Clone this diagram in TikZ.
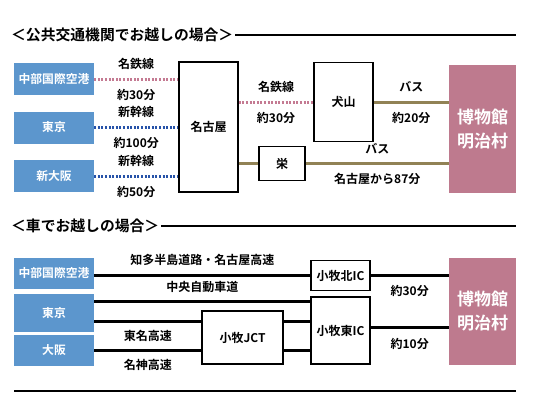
\documentclass[tikz,border=0pt]{standalone}
\usepackage{fontspec}
\newfontfamily\jp{Noto Sans CJK JP}[BoldFont={Noto Sans CJK JP Bold}]
\usepackage{tikz}

\definecolor{cityblue}{RGB}{92,150,205}
\definecolor{museumpink}{RGB}{190,122,142}
\definecolor{railpink}{RGB}{196,122,146}
\definecolor{railblue}{RGB}{38,82,168}
\definecolor{busolive}{RGB}{145,130,85}

\begin{document}
\begin{tikzpicture}[x=1pt,y=-1pt,
    font={\fontsize{12}{14}\jp\bfseries},
    heading/.style={anchor=west,inner sep=2pt,font={\fontsize{14.8}{17}\jp\bfseries}},
    city/.style={fill=cityblue,text=white,minimum width=80pt,inner sep=0pt,
        font={\fontsize{11.8}{14}\jp\bfseries}},
    stop/.style={draw,line width=1.5pt,inner sep=0pt},
    goal/.style={fill=museumpink,text=white,align=center,inner sep=0pt,
        minimum width=67pt,font={\fontsize{17}{24}\jp\bfseries}},
    meitetsu/.style={draw=railpink,line width=3pt,dash pattern=on 2pt off 1.6pt},
    shinkansen/.style={draw=railblue,line width=3pt,dash pattern=on 2pt off 1.6pt},
    bus/.style={draw=busolive,line width=3pt},
    road/.style={draw,line width=3pt},
    rule/.style={line width=2pt}]
    \useasboundingbox (0,0) rectangle (535,410);

    % public transport
    \node[heading] (title1) at (9,35) {＜公共交通機関でお越しの場合＞};
    \coordinate (end1) at (516,35);
    \draw[rule] (title1.east) -- (end1);

    \node[city,minimum height=32pt] (air1) at (54,79) {中部国際空港};
    \node[city,minimum height=32pt] (tokyo1) at (54,127.5) {東京};
    \node[city,minimum height=32pt] (osaka1) at (54,176) {新大阪};
    \node[stop,minimum width=59pt,minimum height=130pt] (nagoya) at (208.5,127) {名古屋};
    \node[stop,minimum width=59pt,minimum height=79pt] (inuyama) at (343.5,102) {犬山};
    \node[stop,minimum width=46pt,minimum height=34pt] (sakae) at (282,163.5) {栄};
    \node[goal,minimum height=128pt] (museum1) at (482.5,129) {博物館\\明治村};

    \draw[meitetsu] (air1.east) -- (air1.east -| nagoya.west)
        node[midway,above=5pt] {名鉄線} node[midway,below=5pt] {約30分};
    \draw[shinkansen] (tokyo1.east) -- (tokyo1.east -| nagoya.west)
        node[midway,above=5pt] {新幹線} node[midway,below=5pt] {約100分};
    \draw[shinkansen] (osaka1.east) -- (osaka1.east -| nagoya.west)
        node[midway,above=5pt] {新幹線} node[midway,below=5pt] {約50分};
    \draw[meitetsu] (inuyama.west -| nagoya.east) -- (inuyama.west)
        node[midway,above=5pt] {名鉄線} node[midway,below=5pt] {約30分};
    \draw[bus] (inuyama.east) -- (inuyama.east -| museum1.west)
        node[midway,above=5pt] {バス} node[midway,below=5pt] {約20分};
    \draw[bus] (sakae.west -| nagoya.east) -- (sakae.west);
    \draw[bus] (sakae.east) -- (sakae.east -| museum1.west)
        node[midway,above=5pt] {バス} node[midway,below=5pt] {名古屋から87分};

    % by car
    \node[heading] (title2) at (9,226) {＜車でお越しの場合＞};
    \coordinate (end2) at (516,226);
    \draw[rule] (title2.east) -- (end2);

    \node[city,minimum height=31pt] (air2) at (54,273) {中部国際空港};
    \node[city,minimum height=38pt] (tokyo2) at (54,313) {東京};
    \node[city,minimum height=31pt] (osaka2) at (54,350.5) {大阪};
    \node[stop,line width=1.2pt,minimum width=81pt,minimum height=53pt] (jct) at (242.5,337.5) {小牧JCT};
    \node[stop,line width=1.2pt,minimum width=59pt,minimum height=30pt] (kita) at (340.5,275.5) {小牧北IC};
    \node[stop,line width=1.2pt,minimum width=59pt,minimum height=67pt] (higashi) at (340.5,330.5) {小牧東IC};
    \node[goal,minimum height=107pt] (museum2) at (482.5,311.5) {博物館\\明治村};

    \coordinate (chuo) at ([yshift=-5pt]higashi.north west);
    \coordinate (tomei) at ([yshift=-11pt]jct.north west);
    \coordinate (meishin) at ([yshift=14pt]jct.south west);

    \draw[road] (kita.west -| air2.east) -- (kita.west)
        node[midway,above=5pt] {知多半島道路・名古屋高速};
    \draw[road] (chuo -| tokyo2.east) -- (chuo)
        node[midway,above=4pt] {中央自動車道};
    \draw[road] (tomei -| tokyo2.east) -- (tomei)
        node[midway,below=4pt] {東名高速};
    \draw[road] (tomei -| jct.east) -- (tomei -| higashi.west);
    \draw[road] (meishin -| osaka2.east) -- (meishin)
        node[midway,below=4pt] {名神高速};
    \draw[road] (meishin -| jct.east) -- (meishin -| higashi.west);
    \draw[road] (kita.east) -- (kita.east -| museum2.west)
        node[midway,below=5pt] {約30分};
    \draw[road] ([yshift=3pt]higashi.east) coordinate (c2) -- (c2 -| museum2.west)
        node[midway,below=6pt] {約10分};

    \coordinate (rulea) at (14,391);
    \coordinate (ruleb) at (516,391);
    \draw[rule] (rulea) -- (ruleb);
\end{tikzpicture}
\end{document}
